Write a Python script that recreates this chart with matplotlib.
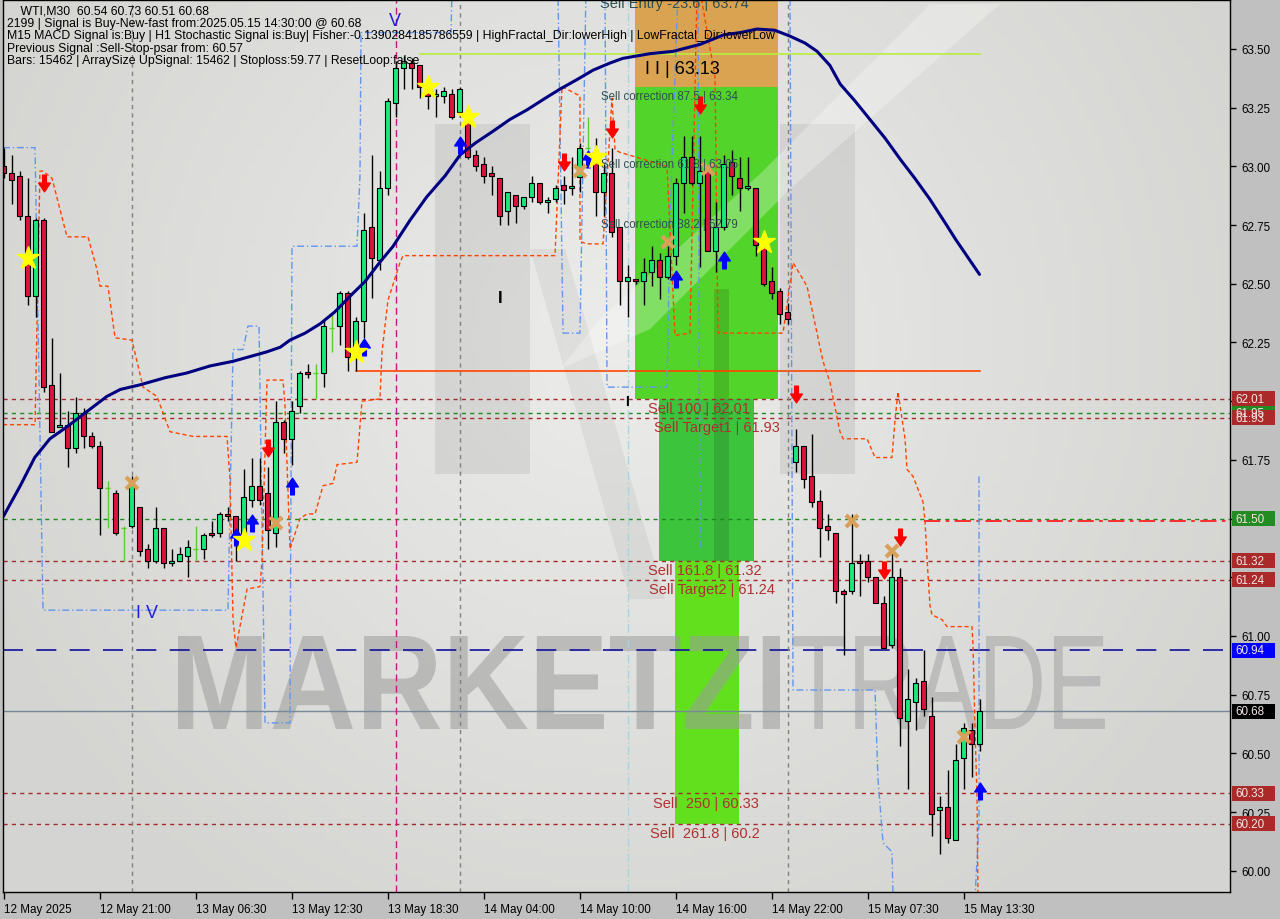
import numpy as np
import matplotlib
matplotlib.use('Agg')
import matplotlib.pyplot as plt
from matplotlib.path import Path
from matplotlib.patches import Rectangle, Polygon, PathPatch
from matplotlib.textpath import TextPath
from matplotlib.font_manager import FontProperties
import matplotlib.transforms as mtransforms

# ---------------- data ----------------
opens = [63.00, 62.97, 62.96, 62.79, 62.45, 62.77, 62.07, 61.89, 61.90, 61.80,
         61.95, 61.85, 61.81, 61.63, 61.61, 61.46, 61.47, 61.55, 61.37, 61.32,
         61.46, 61.31, 61.32, 61.34, 61.37, 61.37, 61.44, 61.44, 61.52, 61.51,
         61.43, 61.58, 61.64, 61.61, 61.44, 61.91, 61.84, 61.98, 62.125, 62.12,
         62.12, 62.31, 62.32, 62.46, 62.21, 62.34, 62.74, 62.60, 62.91, 63.27,
         63.42, 63.44, 63.43, 63.32, 63.30, 63.30, 63.31, 63.23, 63.19, 63.05,
         63.01, 62.97, 62.95, 62.81, 62.88, 62.83, 62.87, 62.93, 62.85, 62.86,
         62.92, 62.91, 62.955, 63.08, 63.06, 62.89, 62.97, 62.74, 62.51, 62.52,
         62.51, 62.55, 62.60, 62.53, 62.62, 62.93, 63.04, 62.93, 62.98, 62.64,
         62.74, 63.02, 62.95, 62.91, 62.91, 62.66, 62.51, 62.47, 62.38, 61.74,
         61.81, 61.68, 61.575, 61.47, 61.44, 61.19, 61.19, 61.32, 61.32, 61.25,
         61.14, 60.96, 61.25, 60.64, 60.72, 60.81, 60.66, 60.26, 60.27, 60.13,
         60.48, 60.60, 60.54]
highs = [63.08, 63.05, 62.98, 62.95, 62.78, 62.78, 62.27, 62.12, 61.96, 62.02,
         61.97, 61.87, 61.83, 61.66, 61.62, 61.47, 61.68, 61.55, 61.39, 61.55,
         61.46, 61.37, 61.38, 61.41, 61.47, 61.44, 61.49, 61.53, 61.55, 61.51,
         61.71, 61.76, 61.76, 61.72, 62.00, 61.92, 62.00, 62.13, 62.16, 62.16,
         62.35, 62.37, 62.47, 62.47, 62.36, 62.80, 63.05, 62.98, 63.29, 63.45,
         63.47, 63.46, 63.43, 63.34, 63.33, 63.34, 63.33, 63.34, 63.21, 63.07,
         63.04, 63.00, 62.95, 62.89, 62.88, 62.87, 62.96, 62.93, 62.87, 62.92,
         62.96, 63.04, 63.10, 63.21, 63.12, 63.01, 63.08, 62.74, 62.58, 62.52,
         62.61, 62.66, 62.63, 62.66, 62.95, 63.13, 63.13, 63.13, 63.00, 62.85,
         63.05, 63.07, 63.04, 63.04, 62.91, 62.72, 62.57, 62.48, 62.42, 61.88,
         61.81, 61.86, 61.62, 61.52, 61.44, 61.20, 61.52, 61.35, 61.35, 61.25,
         61.17, 61.36, 61.29, 60.86, 60.82, 60.94, 60.74, 60.32, 60.43, 60.54,
         60.63, 60.63, 60.73]
lows = [62.95, 62.84, 62.77, 62.41, 62.36, 62.04, 61.87, 61.89, 61.72, 61.78,
        61.80, 61.80, 61.43, 61.46, 61.43, 61.32, 61.46, 61.34, 61.29, 61.31,
        61.29, 61.30, 61.32, 61.25, 61.32, 61.33, 61.42, 61.42, 61.49, 61.32,
        61.39, 61.55, 61.56, 61.37, 61.38, 61.78, 61.73, 61.95, 62.10, 62.01,
        62.06, 62.21, 62.24, 62.13, 62.13, 62.27, 62.44, 62.56, 62.88, 63.21,
        63.33, 63.33, 63.29, 63.245, 63.21, 63.27, 63.20, 63.21, 63.03, 62.98,
        62.93, 62.88, 62.75, 62.75, 62.76, 62.82, 62.85, 62.84, 62.80, 62.85,
        62.84, 62.88, 62.89, 63.07, 62.79, 62.79, 62.70, 62.41, 62.36, 62.50,
        62.41, 62.49, 62.435, 62.52, 62.58, 62.80, 62.92, 62.57, 62.64, 62.55,
        62.73, 62.88, 62.81, 62.90, 62.62, 62.49, 62.435, 62.33, 62.33, 61.70,
        61.63, 61.55, 61.335, 61.41, 61.14, 60.92, 61.18, 61.17, 61.23, 61.14,
        60.95, 60.95, 60.53, 60.35, 60.60, 60.66, 60.15, 60.07, 60.12, 60.13,
        60.35, 60.40, 60.51]
closes = [62.97, 62.94, 62.79, 62.45, 62.77, 62.06, 61.87, 61.90, 61.80, 61.95,
          61.85, 61.81, 61.63, 61.63, 61.44, 61.46, 61.66, 61.36, 61.32, 61.46,
          61.31, 61.32, 61.35, 61.38, 61.37, 61.43, 61.43, 61.52, 61.51, 61.42,
          61.59, 61.64, 61.58, 61.45, 61.91, 61.84, 61.96, 62.12, 62.115, 62.12,
          62.32, 62.31, 62.46, 62.19, 62.34, 62.73, 62.61, 62.91, 63.28, 63.42,
          63.45, 63.42, 63.34, 63.30, 63.31, 63.32, 63.21, 63.33, 63.04, 63.00,
          62.96, 62.96, 62.79, 62.89, 62.83, 62.87, 62.93, 62.85, 62.855, 62.91,
          62.90, 62.915, 63.08, 63.08, 62.89, 62.97, 62.72, 62.51, 62.53, 62.51,
          62.55, 62.60, 62.53, 62.62, 62.93, 63.04, 62.93, 62.98, 62.64, 62.74,
          63.01, 62.96, 62.91, 62.915, 62.665, 62.50, 62.46, 62.37, 62.35, 61.81,
          61.67, 61.57, 61.46, 61.45, 61.19, 61.18, 61.31, 61.31, 61.25, 61.14,
          60.95, 61.25, 60.65, 60.73, 60.80, 60.69, 60.24, 60.27, 60.14, 60.47,
          60.61, 60.54, 60.68]

ma_x = [0, 2.1, 3.9, 5.8, 7.9, 10.2, 12.9, 14.6, 17.1, 20.2, 22.9, 25.8, 28.7,
        30.8, 32.9, 34.6, 35.8, 37.7, 39.6, 41.4, 43.7, 45.2, 47, 48.7, 50.8,
        52.9, 55.2, 57.1, 59.0, 61.2, 63.3, 65.4, 67.7, 69.6, 71.7, 73.7, 75.8,
        77.4, 80.8, 83.7, 87.1, 90, 92.1, 94.2, 96.4, 98.3, 100.2, 101.7, 103.3,
        104.6, 106.4, 108.3, 110.2, 112.1, 113.9, 115.8, 117.7, 119, 120.6, 122]
ma_y = [61.51, 61.64, 61.76, 61.84, 61.89, 61.95, 62.02, 62.05, 62.07, 62.10,
        62.12, 62.15, 62.17, 62.19, 62.21, 62.23, 62.26, 62.29, 62.33, 62.38,
        62.46, 62.51, 62.59, 62.66, 62.77, 62.87, 62.96, 63.05, 63.10, 63.15,
        63.20, 63.24, 63.29, 63.33, 63.37, 63.41, 63.44, 63.46, 63.48, 63.49,
        63.52, 63.56, 63.57, 63.585, 63.58, 63.555, 63.525, 63.49, 63.43, 63.35,
        63.28, 63.20, 63.12, 63.03, 62.95, 62.86, 62.76, 62.69, 62.61, 62.54]

psar_x = [-0.06, 3.94, 4.56, 4.94, 6.06, 6.81, 7.94, 10.56, 11.69, 12.06, 13.06,
          13.94, 16.06, 17.44, 19.19, 20.81, 23.69, 27.94, 28.31, 28.69, 29.06,
          30.44, 32.06, 32.31, 32.94, 34.94, 35.19, 35.81, 37.06, 37.94, 38.94,
          39.94, 41.19, 41.69, 44.19, 44.81, 47.06, 47.31, 48.06, 49.56, 49.94,
          68.94, 69.81, 72.06, 72.06, 72.94, 74.94, 76.06, 76.44, 77.06, 82.94,
          83.94, 85.81, 86.69, 87.06, 88.94, 89.31, 89.94, 97.44, 98.69, 100.44,
          102.44, 103.31, 104.56, 104.94, 107.94, 108.94, 111.06, 111.44, 111.81,
          112.69, 112.94, 113.69, 114.94, 115.19, 115.44, 115.81, 116.06, 117.31,
          117.94, 121.06, 121.19, 121.44, 121.69, 121.81]
psar_y = [61.90, 61.90, 62.98, 62.98, 62.95, 62.85, 62.70, 62.70, 62.56, 62.49,
          62.49, 62.27, 62.26, 62.06, 62.02, 61.87, 61.85, 61.85, 61.67, 61.07,
          60.95, 61.20, 61.21, 61.32, 62.09, 62.09, 61.98, 61.37, 61.50, 61.52,
          61.52, 61.64, 61.65, 61.73, 61.74, 62.00, 62.01, 62.21, 62.43, 62.59,
          62.62, 62.62, 63.34, 63.30, 62.68, 62.67, 62.67, 63.29, 63.07, 63.06,
          63.00, 62.28, 62.29, 63.75, 63.75, 63.38, 62.29, 62.29, 62.29, 62.59,
          62.49, 62.17, 62.08, 61.87, 61.84, 61.84, 61.76, 61.76, 61.92, 62.04,
          61.84, 61.71, 61.68, 61.57, 61.49, 61.33, 61.13, 61.09, 61.07, 61.04,
          61.04, 60.96, 60.60, 60.32, 59.89]

chan1_x = [-0.06, 3.94, 4.94, 28.06, 28.69, 29.94, 30.56, 31.94, 32.69, 35.81,
           36.06, 44.19, 44.56, 44.69, 55.94, 56.06]
chan1_y = [63.08, 63.08, 61.11, 61.11, 62.22, 62.22, 62.32, 62.32, 60.63, 60.63,
           62.66, 62.66, 62.96, 63.57, 63.57, 63.75]
chan2_x = [69.31, 69.94, 72.06, 72.81]
chan2_y = [63.75, 62.29, 62.29, 63.75]
chan3_x = [75.19, 75.44, 82.94, 83.31, 84.31]
chan3_y = [63.75, 62.06, 62.06, 62.78, 63.75]
chan4_x = [86.81, 87.06]
chan4_y = [63.75, 61.37]
chan5_x = [98.31, 98.69, 108.94, 109.31, 109.94, 111.06, 111.19]
chan5_y = [63.75, 60.77, 60.77, 60.39, 60.12, 60.08, 59.89]
chan6_x = [121.94, 121.94, 121.44]
chan6_y = [61.68, 60.20, 59.89]

zone_x0 = [78.9, 78.9, 81.9, 83.9]
zone_x1 = [96.8, 96.8, 93.8, 91.9]
zone_lo = [63.34, 62.01, 61.32, 60.20]
zone_hi = [63.74, 63.34, 62.01, 61.32]
zone_col = ['#D9A352', '#52D42A', '#3DC43D', '#62E01E']

red_levels = [62.01, 61.93, 61.32, 61.24, 60.33, 60.20]
green_levels = [61.95, 61.50]
blue_level = 60.94
last_price = 60.68
support_level = 62.13
support_bars = [44, 122]
top_level = 63.48
top_bars = [52, 122]
stop_level = 61.49
stop_start = 115

down_x = [5, 33, 70, 76, 87, 99, 110, 112]
down_y = [62.93, 61.80, 63.02, 63.16, 63.26, 62.03, 61.28, 61.42]
up_x = [29, 31, 36, 45, 57, 73, 84, 90, 122]
up_y = [61.42, 61.48, 61.64, 62.23, 63.09, 63.03, 62.52, 62.60, 60.34]
star_x = [3, 30, 44, 53, 58, 74, 95]
star_y = [62.61, 61.41, 62.21, 63.34, 63.21, 63.04, 62.68]
cross_x = [16, 34, 72, 83, 88, 106, 111, 120]
cross_y = [61.65, 61.48, 62.98, 62.68, 62.99, 61.49, 61.36, 60.57]

tick_bars = [0, 12, 24, 36, 48, 60, 72, 84, 96, 108, 120]
tick_labels = ['12 May 2025', '12 May 21:00', '13 May 06:30', '13 May 12:30',
               '13 May 18:30', '14 May 04:00', '14 May 10:00', '14 May 16:00',
               '14 May 22:00', '15 May 07:30', '15 May 13:30']
y_ticks = [60.00, 60.25, 60.50, 60.75, 61.00, 61.25, 61.50, 61.75, 62.00,
           62.25, 62.50, 62.75, 63.00, 63.25, 63.50]
y_hidden = [61.25, 61.50, 62.00]

box_vals = [61.95, 62.01, 61.93, 61.50, 61.32, 61.24, 60.94, 60.68, 60.33, 60.20]
box_cols = ['#228B22', '#AA2A2A', '#AA2A2A', '#228B22', '#AA2A2A', '#AA2A2A',
            '#0000FF', '#000000', '#AA2A2A', '#AA2A2A']

vsep_gray = [16, 57, 98]
vsep_magenta = 49
vsep_cyan = 78

header = [
    "    WTI,M30  60.54 60.73 60.51 60.68",
    "2199 | Signal is Buy-New-fast from:2025.05.15 14:30:00 @ 60.68",
    "M15 MACD Signal is:Buy | H1 Stochastic Signal is:Buy| Fisher:-0.1390284185786559 | HighFractal_Dir:lowerHigh | LowFractal_Dir:lowerLow",
    "Previous Signal :Sell-Stop-psar from: 60.57",
    "Bars: 15462 | ArraySize UpSignal: 15462 | Stoploss:59.77 | ResetLoop:false",
]

# ---------------- layout ----------------
FONT = 'Liberation Sans'
plt.rcParams['font.family'] = [FONT, 'DejaVu Sans']
W, H = 1280, 920
L, R, T, B = 3, 1230, 1, 893
fig = plt.figure(figsize=(12.8, 9.2), dpi=100, facecolor='#C0C0C0')
ax = fig.add_axes([L / W, 1 - B / H, (R - L) / W, (B - T) / H])
xmin, xmax = (L - 3.5) / 8, (R - 3.5) / 8
ytop = 63.5 + (50 - T) / 234.8
ybot = 63.5 - (B - 50) / 234.8
ax.set_xlim(xmin, xmax)
ax.set_ylim(ybot, ytop)
pix = mtransforms.Affine2D().scale(1, -1).translate(0, H).scale(1 / 100) + fig.dpi_scale_trans

# background gradient
gx, gy = np.meshgrid(np.linspace(0, 1, 160), np.linspace(0, 1, 120))
d = np.clip(np.sqrt(((gx - 0.5) / 0.55) ** 2 + ((gy - 0.62) / 0.75) ** 2), 0, 1)
light = np.array([0.925, 0.925, 0.92])
dark = np.array([0.835, 0.835, 0.825])
img = light[None, None, :] * (1 - d[..., None]) + dark[None, None, :] * d[..., None]
ax.imshow(img, extent=[xmin, xmax, ybot, ytop], aspect='auto', zorder=0, origin='lower')

# logo watermark (pixel space)
for poly, col, a in [
    ([(435, 125), (530, 125), (530, 475), (435, 475)], 'k', 0.07),
    ([(780, 125), (855, 125), (855, 475), (780, 475)], 'k', 0.07),
    ([(530, 250), (565, 250), (665, 600), (630, 600)], 'k', 0.05),
]:
    ax.add_patch(Polygon(poly, closed=True, transform=pix, fc=col, ec='none', alpha=a, zorder=0.5))

# fib zones
for x0, x1, lo, hi, c in zip(zone_x0, zone_x1, zone_lo, zone_hi, zone_col):
    ax.add_patch(Rectangle((x0, lo), x1 - x0, hi - lo, fc=c, ec='none', zorder=1))
ax.add_patch(Polygon([(714, 290), (729, 290), (729, 562), (714, 562)], transform=pix,
                     fc='k', ec='none', alpha=0.12, zorder=1.1))
ax.add_patch(Polygon([(930, 5), (1000, 5), (790, 190), (650, 330), (560, 370), (600, 320), (760, 175)],
                     transform=pix, fc='white', ec='none', alpha=0.28, zorder=1.1))

# watermark text
def wm(text, weight, box, col, a):
    fp = FontProperties(family=FONT, weight=weight)
    tp = TextPath((0, 0), text, prop=fp, size=100)
    bb = tp.get_extents()
    x0, y0, x1, y1 = box
    tr = (mtransforms.Affine2D().translate(-bb.x0, -bb.y0)
          .scale((x1 - x0) / bb.width, (y1 - y0) / bb.height)
          .translate(x0, H - y1).scale(1 / 100) + fig.dpi_scale_trans)
    ax.add_patch(PathPatch(tp, transform=tr, fc=col, ec='none', alpha=a, zorder=1.5))

wm("MARKETZI", 'bold', (178, 637, 780, 730), '#9C9C9C', 0.55)
wm("TRADE", 'normal', (792, 637, 1105, 730), '#A8A8A8', 0.6)

# horizontal levels
for v in red_levels:
    ax.axhline(v, color='#A52A2A', ls=(0, (3, 3)), lw=1, zorder=2)
for v in green_levels:
    ax.axhline(v, color='#1E8B1E', ls=(0, (3, 3)), lw=1, zorder=2)
ax.axhline(blue_level, color='#10109A', ls=(0, (12, 8)), lw=1.2, zorder=2)
ax.axhline(last_price, color='#778899', lw=1, zorder=2)
ax.plot(support_bars, [support_level, support_level], color='#FF4500', lw=1.2, zorder=2)
ax.plot(top_bars, [top_level, top_level], color='#B8EE40', lw=1.2, zorder=2)
ax.plot([stop_start, xmax], [stop_level, stop_level], color='#FF2020', ls=(0, (9, 3, 2, 3)), lw=1.3, zorder=2)

# vertical separators
for b in vsep_gray:
    ax.axvline(b, color='#808080', ls=(0, (3, 3)), lw=1, zorder=2)
ax.axvline(vsep_magenta, color='#C71585', ls=(0, (5, 3)), lw=1, zorder=2)
ax.axvline(vsep_cyan, color='#A8D4E0', ls=(0, (6, 2, 1, 2)), lw=1, zorder=2)

# channels and psar
for cx, cy in [(chan1_x, chan1_y), (chan2_x, chan2_y), (chan3_x, chan3_y),
               (chan4_x, chan4_y), (chan5_x, chan5_y), (chan6_x, chan6_y)]:
    ax.plot(cx, cy, color='#6495ED', ls=(0, (5, 2, 1, 2)), lw=1, zorder=2.2)
ax.plot(psar_x, psar_y, color='#FF4500', ls=(0, (3, 2)), lw=1, zorder=2.2)

# candles
bull, bear = '#1AE87A', '#DC143C'
for i, (o, h, l, c) in enumerate(zip(opens, highs, lows, closes)):
    if o == c:
        ax.vlines(i, l, h, color='#5CCB2C', lw=1, zorder=3)
        ax.hlines(o, i - 0.3, i + 0.3, color='#5CCB2C', lw=1, zorder=3)
        continue
    ax.vlines(i, l, h, color='black', lw=1, zorder=3)
    lo_, hi_ = min(o, c), max(o, c)
    hgt = max(hi_ - lo_, 0.008)
    ax.add_patch(Rectangle((i - 0.37, lo_), 0.74, hgt, fc=bull if c > o else bear,
                           ec='black', lw=0.8, zorder=3.1))

# moving average
ax.plot(ma_x, ma_y, color='#000080', lw=2.2, zorder=3.5, solid_capstyle='round',
        solid_joinstyle='round')

# markers
arrow_dn = Path([(-0.22, 1), (0.22, 1), (0.22, 0.05), (0.7, 0.05), (0, -1), (-0.7, 0.05), (-0.22, 0.05), (-0.22, 1)],
                [Path.MOVETO] + [Path.LINETO] * 6 + [Path.CLOSEPOLY])
arrow_up = Path([(x, -y) for x, y in arrow_dn.vertices], arrow_dn.codes)
ax.plot(down_x, down_y, ls='none', marker=arrow_dn, ms=12, mfc='#FF0000', mec='#FF0000', zorder=4)
ax.plot(up_x, up_y, ls='none', marker=arrow_up, ms=12, mfc='#0000FF', mec='#0000FF', zorder=4)
ax.plot(star_x, star_y, ls='none', marker='*', ms=17, mfc='#FFFF00', mec='#FFFF00', zorder=4.1)
ax.plot(cross_x, cross_y, ls='none', marker='x', ms=8, mew=3, color='#D9A05A', zorder=4.1)

# fib texts
lab = dict(fontsize=10.5, color='#B03030', zorder=5, va='center', ha='left')
ax.text(80.6, 61.97, "Sell 100 | 62.01", **lab)
ax.text(81.3, 61.89, "Sell Target1 | 61.93", **lab)
ax.text(80.6, 61.28, "Sell 161.8 | 61.32", **lab)
ax.text(80.7, 61.20, "Sell Target2 | 61.24", **lab)
ax.text(81.2, 60.29, "Sell  250 | 60.33", **lab)
ax.text(80.8, 60.16, "Sell  261.8 | 60.2", **lab)
cor = dict(fontsize=8.3, color='#2F4F4F', zorder=5, va='center', ha='left')
ax.text(74.7, 63.30, "Sell correction 87.5 | 63.34", **cor)
ax.text(74.7, 63.01, "Sell correction 61.8 | 63.05", **cor)
ax.text(74.7, 62.755, "Sell correction 38.2 | 62.79", **cor)
ax.text(74.6, 63.697, "Sell Entry -23.6 | 63.74", fontsize=10.5, color='#2F4F4F',
        va='center', ha='left', zorder=5, clip_on=True)
ax.text(80.2, 63.415, "I I | 63.13", fontsize=13, color='black', va='center', ha='left', zorder=5)

# wave labels
ax.text(48.9, 63.62, "V", fontsize=13, color='#1E1EE6', ha='center', va='center', zorder=5)
ax.text(17.9, 61.10, "I V", fontsize=13, color='#1E1EE6', ha='center', va='center', zorder=5)
ax.text(62.1, 62.44, "I", fontsize=12, color='black', ha='center', va='center', zorder=5, fontweight='bold')
ax.text(78.0, 62.00, "I", fontsize=10, color='black', ha='center', va='center', zorder=5, fontweight='bold')

# header
for k, line in enumerate(header):
    fig.text(7 / W, 1 - (11 + 12.6 * k) / H, line, fontsize=8.8, color='black',
             ha='left', va='center', zorder=6)

# axes styling
for s in ax.spines.values():
    s.set_color('black')
    s.set_linewidth(1)
    s.set_zorder(6)
ax.yaxis.tick_right()
ax.set_yticks(y_ticks)
ax.set_yticklabels(['' if v in y_hidden else f"{v:.2f}" for v in y_ticks])
ax.tick_params(axis='y', direction='out', length=4, width=1, pad=4, labelsize=8.4, colors='black')
ax.set_xticks(tick_bars)
ax.set_xticklabels(tick_labels, ha='left')
ax.tick_params(axis='x', direction='out', length=5, width=1, pad=3, labelsize=8.4, colors='black')

# right price boxes
btr = mtransforms.blended_transform_factory(ax.transAxes, ax.transData)
bw = 43 / (R - L)
bh = 15 / 234.8
for v, c in zip(box_vals, box_cols):
    ax.add_patch(Rectangle((1.0016, v - bh / 2), bw, bh, transform=btr, fc=c, ec='none',
                           clip_on=False, zorder=10))
    ax.text(1.0045, v, f"{v:.2f}", transform=btr, fontsize=8.4, color='#F2E4E4',
            ha='left', va='center', clip_on=False, zorder=11)

fig.savefig('out.png', dpi=100, facecolor=fig.get_facecolor())
